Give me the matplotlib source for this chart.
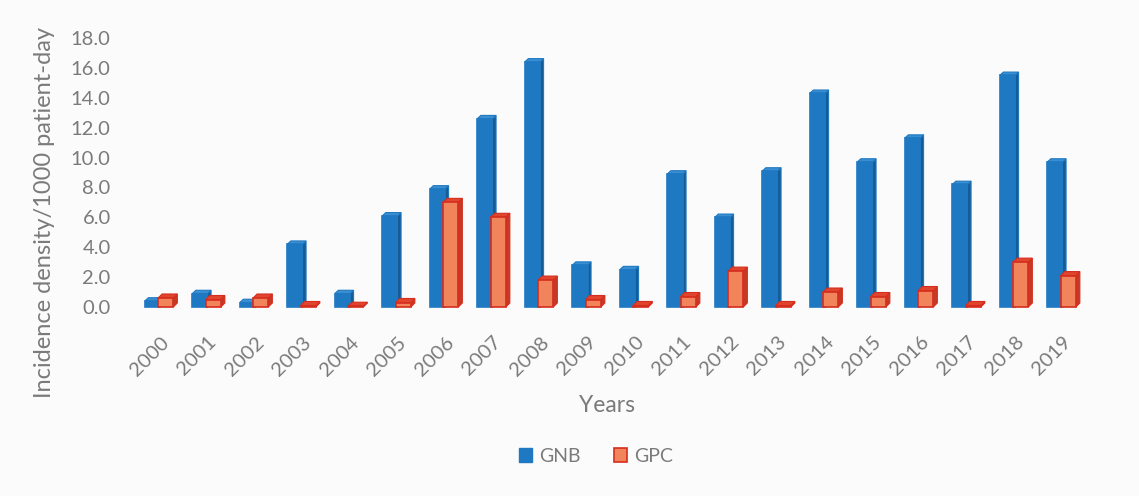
"""Yearly incidence density of GNB and GPC, drawn as Excel-style 3D columns."""

import matplotlib

matplotlib.use("Agg")
import matplotlib.pyplot as plt
from matplotlib.patches import Polygon, Patch
import numpy as np


YEARS = ["2000", "2001", "2002", "2003", "2004", "2005", "2006", "2007", "2008", "2009",
         "2010", "2011", "2012", "2013", "2014", "2015", "2016", "2017", "2018", "2019"]
GNB = [0.4, 0.9, 0.3, 4.2, 0.9, 6.1, 7.9, 12.6, 16.4, 2.8,
       2.5, 8.9, 6.0, 9.1, 14.3, 9.7, 11.3, 8.2, 15.5, 9.7]
GPC = [0.6, 0.5, 0.6, 0.1, 0.05, 0.3, 7.0, 6.0, 1.8, 0.5,
       0.1, 0.7, 2.4, 0.1, 1.0, 0.7, 1.1, 0.1, 3.0, 2.1]
Y_TICKS = [0, 2, 4, 6, 8, 10, 12, 14, 16, 18]

TEXT = "#7a7a7a"
BG = "#fbfbfb"
BLUE = {"front": "#1f79c2", "side": "#175b94", "top": "#3a8fd2", "edge": "#1f79c2"}
RED = {"front": "#f2845c", "side": "#c33a26", "top": "#e0452e", "edge": "#d62d1e"}


def draw_columns(ax, x, heights, width, style, dx, dy, z):
    bars = ax.bar(x, heights, width=width, color=style["front"], edgecolor=style["edge"],
                  linewidth=1.2, zorder=z)
    for rect in bars:
        x0 = rect.get_x()
        x1 = x0 + rect.get_width()
        h = rect.get_height()
        side = Polygon([(x1, 0), (x1 + dx, dy), (x1 + dx, h + dy), (x1, h)], closed=True,
                       facecolor=style["side"], edgecolor=style["edge"], linewidth=0.8,
                       zorder=z - 0.1)
        top = Polygon([(x0, h), (x0 + dx, h + dy), (x1 + dx, h + dy), (x1, h)], closed=True,
                      facecolor=style["top"], edgecolor=style["edge"], linewidth=0.8,
                      zorder=z - 0.1)
        for patch in (side, top):
            patch.set_clip_on(False)
            ax.add_patch(patch)
        rect.set_clip_on(False)
    return bars


def main() -> None:
    plt.rcParams.update({
        "font.family": ["Lato", "DejaVu Sans"],
        "font.size": 14,
    })
    fig = plt.figure(figsize=(11.39, 4.96), dpi=100, facecolor=BG)
    ax = fig.add_axes([131.5 / 1139, 1 - 307 / 496, (1091 - 131.5) / 1139, 269 / 496])
    ax.set_facecolor(BG)

    x = np.arange(len(YEARS))
    draw_columns(ax, x - 0.16, GNB, 0.32, BLUE, 0.075, 0.22, 2)
    draw_columns(ax, x + 0.12, GPC, 0.32, RED, 0.085, 0.27, 3)

    ax.set_xlim(-0.6, 19.6)
    ax.set_ylim(0, 18)
    ax.set_yticks(Y_TICKS, [f"{v:.1f}" for v in Y_TICKS])
    ax.set_xticks(x, YEARS, rotation=45, ha="right", rotation_mode="anchor")
    ax.tick_params(axis="both", length=0, colors=TEXT, labelsize=14.5)
    ax.tick_params(axis="y", pad=15)
    ax.tick_params(axis="x", pad=19)
    for spine in ax.spines.values():
        spine.set_visible(False)

    fig.text(45 / 1139, 1 - 213 / 496, "Incidence density/1000 patient-day", rotation=90,
             ha="center", va="center", color=TEXT, fontsize=17)
    fig.text(607 / 1139, 1 - 405 / 496, "Years", ha="center", va="center", color=TEXT,
             fontsize=16.5)

    handles = [
        Patch(facecolor=BLUE["front"], edgecolor=BLUE["front"], label="GNB"),
        Patch(facecolor=RED["front"], edgecolor=RED["edge"], linewidth=1.2, label="GPC"),
    ]
    leg = fig.legend(handles=handles, loc="center", bbox_to_anchor=(596 / 1139, 1 - 456 / 496),
                     ncol=2, frameon=False, fontsize=14, handlelength=0.7, handleheight=0.7,
                     handletextpad=0.35, columnspacing=1.7)
    for t in leg.get_texts():
        t.set_color(TEXT)

    fig.savefig("out.png", dpi=100, facecolor=BG)
    plt.close(fig)


if __name__ == "__main__":
    main()
